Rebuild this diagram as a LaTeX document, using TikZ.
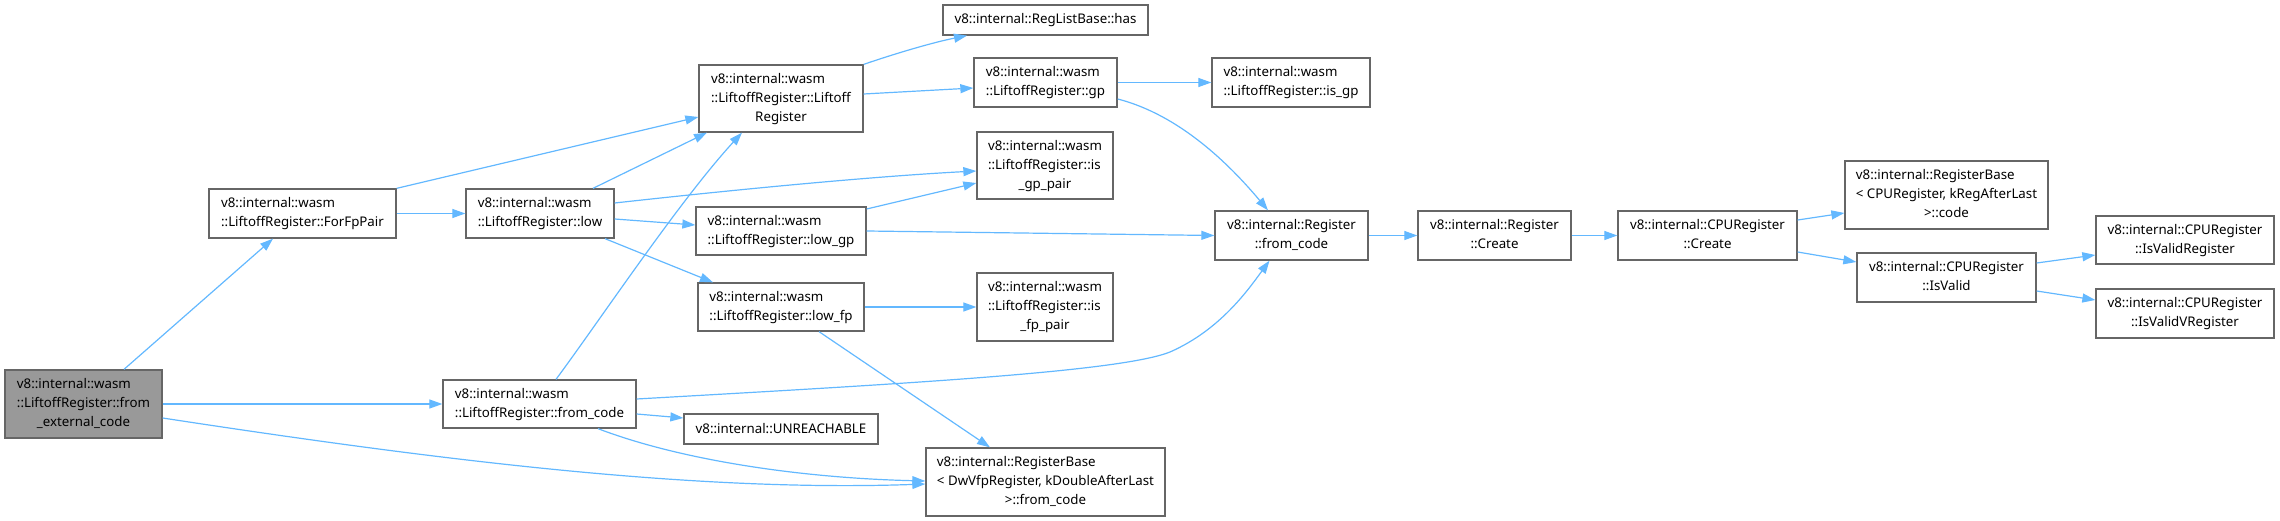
\documentclass[tikz,border=0pt]{standalone}
\usepackage{fontspec}
\setmainfont{Noto Sans}
\usetikzlibrary{arrows.meta}
\definecolor{edgec}{HTML}{63B8FF}
\definecolor{bordc}{HTML}{666666}
\definecolor{rootc}{HTML}{999999}
\newcommand{\twol}[2]{\begin{tabular}{@{}l@{}}#1\\\multicolumn{1}{@{}c@{}}{#2}\end{tabular}}
\newcommand{\threel}[3]{\begin{tabular}{@{}l@{}}#1\\#2\\\multicolumn{1}{@{}c@{}}{#3}\end{tabular}}
\begin{document}
\begin{tikzpicture}[x=1pt,y=-1pt,
  box/.style={draw=bordc, line width=1.3pt, fill=white, inner sep=0pt, font=\fontsize{13.3}{19}\selectfont},
  rootbox/.style={box, fill=rootc},
  e/.style={draw=edgec, line width=1.2pt, -{Triangle[length=13pt,width=9pt]}}]
\useasboundingbox (0,0) rectangle (2280,521);
% nodes
\node[rootbox, minimum width=157pt, minimum height=68pt] (fec) at (83.5,404) {\threel{v8::internal::wasm}{::LiftoffRegister::from}{\_external\_code}};
\node[box, minimum width=187pt, minimum height=49pt] (ffp) at (302.5,213.5) {\twol{v8::internal::wasm}{::LiftoffRegister::ForFpPair}};
\node[box, minimum width=164pt, minimum height=67pt] (lrc) at (781,98.5) {\threel{v8::internal::wasm}{::LiftoffRegister::Liftoff}{Register}};
\node[box, minimum width=148pt, minimum height=49pt] (low) at (540,213.5) {\twol{v8::internal::wasm}{::LiftoffRegister::low}};
\node[box, minimum width=170pt, minimum height=48pt] (lowgp) at (781,231) {\twol{v8::internal::wasm}{::LiftoffRegister::low\_gp}};
\node[box, minimum width=166pt, minimum height=48pt] (lowfp) at (781,307) {\twol{v8::internal::wasm}{::LiftoffRegister::low\_fp}};
\node[box, minimum width=193pt, minimum height=48pt] (fc) at (539.5,404) {\twol{v8::internal::wasm}{::LiftoffRegister::from\_code}};
\node[box, minimum width=194pt, minimum height=30pt] (unr) at (781,429) {v8::internal::UNREACHABLE};
\node[box, minimum width=205pt, minimum height=30pt] (has) at (1045.5,20) {v8::internal::RegListBase::has};
\node[box, minimum width=143pt, minimum height=49pt] (gp) at (1045.5,82.5) {\twol{v8::internal::wasm}{::LiftoffRegister::gp}};
\node[box, minimum width=158pt, minimum height=49pt] (isgp) at (1291,82.5) {\twol{v8::internal::wasm}{::LiftoffRegister::is\_gp}};
\node[box, minimum width=136pt, minimum height=67pt] (isgpp) at (1045,165.5) {\threel{v8::internal::wasm}{::LiftoffRegister::is}{\_gp\_pair}};
\node[box, minimum width=153pt, minimum height=49pt] (rfc) at (1291.5,235.5) {\twol{v8::internal::Register}{::from\_code}};
\node[box, minimum width=136pt, minimum height=68pt] (isfpp) at (1045,307) {\threel{v8::internal::wasm}{::LiftoffRegister::is}{\_fp\_pair}};
\node[box, minimum width=239pt, minimum height=68pt] (rbd) at (1045.5,482) {\threel{v8::internal::RegisterBase}{< DwVfpRegister, kDoubleAfterLast}{>::from\_code}};
\node[box, minimum width=153pt, minimum height=49pt] (rcr) at (1494.5,235.5) {\twol{v8::internal::Register}{::Create}};
\node[box, minimum width=179pt, minimum height=49pt] (ccr) at (1707.5,235.5) {\twol{v8::internal::CPURegister}{::Create}};
\node[box, minimum width=203pt, minimum height=68pt] (rbc) at (1946.5,195) {\threel{v8::internal::RegisterBase}{< CPURegister, kRegAfterLast}{>::code}};
\node[box, minimum width=179pt, minimum height=49pt] (isv) at (1946.5,277.5) {\twol{v8::internal::CPURegister}{::IsValid}};
\node[box, minimum width=178pt, minimum height=48pt] (ivr) at (2185,240) {\twol{v8::internal::CPURegister}{::IsValidRegister}};
\node[box, minimum width=178pt, minimum height=49pt] (ivv) at (2185,313.5) {\twol{v8::internal::CPURegister}{::IsValidVRegister}};
% edges
\draw[e] ([xshift=40.5pt]fec.north) -- ([xshift=-29.5pt]ffp.south);
\draw[e] (fec.east) -- (fc.west);
\draw[e] ([yshift=-14pt]fec.east) .. controls (450,462) and (700,492) .. ([yshift=-2pt]rbd.west);
\draw[e] (ffp.north east) -- ([yshift=-18.5pt]lrc.west);
\draw[e] (ffp.east) -- (low.west);
\draw[e] ([xshift=53pt]low.north) -- ([xshift=-74pt]lrc.south);
\draw[e] ([yshift=10.5pt]low.east) .. controls (750,188) and (880,176) .. ([yshift=-5.5pt]isgpp.west);
\draw[e] ([yshift=-5.5pt]low.east) -- ([yshift=6pt]lowgp.west);
\draw[e] ([xshift=65pt]low.south) -- ([xshift=-68pt]lowfp.north);
\draw[e] ([xshift=16.5pt]fc.north) .. controls (600,320) and (680,200) .. ([xshift=-39pt]lrc.south);
\draw[e] ([yshift=5pt]fc.east) .. controls (900,384) and (1120,372) .. (1170,352) .. controls (1220,330) and (1248,290) .. ([xshift=-22pt]rfc.south);
\draw[e] ([yshift=-10pt]fc.east) -- ([yshift=11pt]unr.west);
\draw[e] ([xshift=58.5pt]fc.south) .. controls (680,460) and (800,478) .. ([yshift=1pt]rbd.west);
\draw[e] (lrc.north east) .. controls (900,52) and (935,42) .. ([xshift=-78.5pt]has.south);
\draw[e] ([yshift=4.5pt]lrc.east) -- ([yshift=-5.5pt]gp.west);
\draw[e] ([yshift=22pt]lowgp.east) -- ([yshift=-17.5pt]isgpp.west);
\draw[e] (lowgp.east) -- (rfc.west);
\draw[e] (lowfp.east) -- (isfpp.west);
\draw[e] ([xshift=38pt]lowfp.south) -- ([xshift=-55.5pt]rbd.north);
\draw[e] (gp.east) -- (isgp.west);
\draw[e] ([yshift=-16.5pt]gp.east) .. controls (1180,115) and (1230,165) .. ([xshift=-23.5pt]rfc.north);
\draw[e] (rfc.east) -- (rcr.west);
\draw[e] (rcr.east) -- (ccr.west);
\draw[e] ([yshift=15.5pt]ccr.east) -- ([yshift=-18pt]rbc.west);
\draw[e] ([yshift=-16.5pt]ccr.east) -- ([yshift=15.5pt]isv.west);
\draw[e] ([yshift=14.5pt]isv.east) -- ([yshift=-15pt]ivr.west);
\draw[e] ([yshift=-13.5pt]isv.east) -- ([yshift=13.5pt]ivv.west);
\end{tikzpicture}
\end{document}
